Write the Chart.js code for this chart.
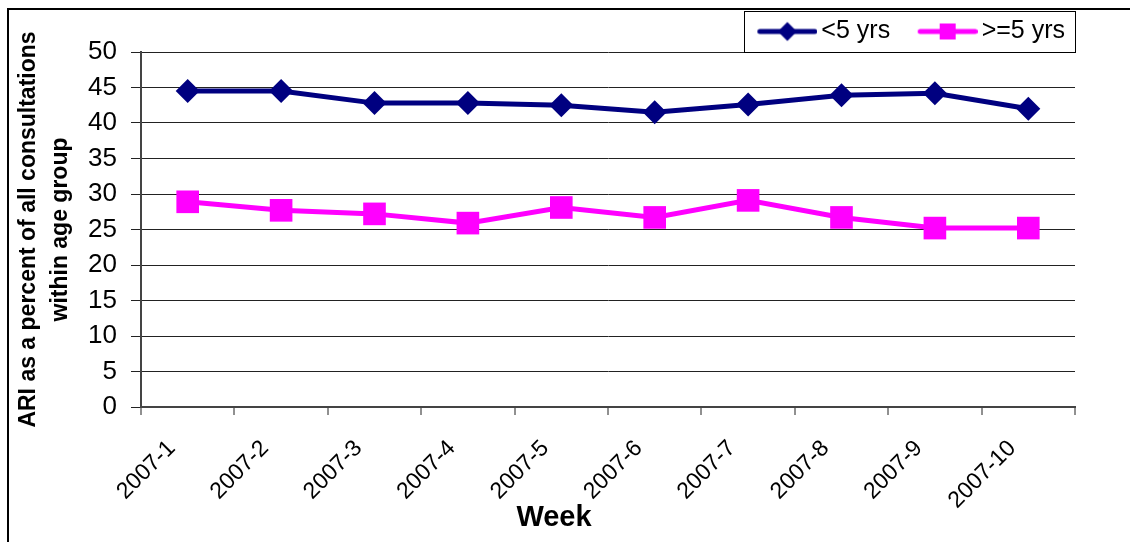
<!DOCTYPE html>
<html>
<head>
<meta charset="utf-8">
<script src="https://cdn.jsdelivr.net/npm/chart.js@4.4.1/dist/chart.umd.min.js"></script>
<style>
  body { margin: 0; background: #fff; }
  #wrap { position: relative; width: 1130px; height: 542px; overflow: hidden; }
  #frame { position: absolute; left: 7px; top: 8px; width: 1200px; height: 600px;
           border: 2px solid #000; pointer-events: none; }
</style>
</head>
<body>
<div id="wrap">
  <canvas id="ariChart"></canvas>
  <div id="frame"></div>
</div>
<script>
// data
const weeks = ['2007-1', '2007-2', '2007-3', '2007-4', '2007-5',
               '2007-6', '2007-7', '2007-8', '2007-9', '2007-10'];
const under5 = [44.5, 44.5, 42.8, 42.8, 42.5, 41.5, 42.6, 43.9, 44.2, 42.0];
const over5 = [28.9, 27.7, 27.2, 25.9, 28.1, 26.7, 29.1, 26.7, 25.2, 25.2];
const seriesNames = ['<5 yrs', '>=5 yrs'];
const yMin = 0, yMax = 50, yStep = 5;

const navy = '#000080';
const magenta = '#FF00FF';

Chart.defaults.font.family = '"Liberation Sans", Arial, sans-serif';
Chart.defaults.color = '#000';

// line + marker swatch for the legend
function legendSwatch(color, marker) {
  const c = document.createElement('canvas');
  c.width = 86;
  c.height = 24;
  const g = c.getContext('2d');
  g.strokeStyle = color;
  g.fillStyle = color;
  g.lineWidth = 5;
  g.lineCap = 'round';
  g.beginPath();
  g.moveTo(28.5, 12);
  g.lineTo(83.5, 12);
  g.stroke();
  const cx = 56, cy = 12;
  if (marker === 'diamond') {
    g.beginPath();
    g.moveTo(cx - 9.5, cy);
    g.lineTo(cx, cy - 9.5);
    g.lineTo(cx + 9.5, cy);
    g.lineTo(cx, cy + 9.5);
    g.closePath();
    g.fill();
  } else {
    g.fillRect(cx - 8, cy - 8, 16, 16);
  }
  return c;
}
const swatches = [legendSwatch(navy, 'diamond'), legendSwatch(magenta, 'square')];

const legendFrame = {
  id: 'legendFrame',
  afterDraw(chart) {
    const lg = chart.legend;
    if (!lg || !lg.legendHitBoxes.length) return;
    const ctx = chart.ctx;
    const left = lg.legendHitBoxes[0].left + 4;
    ctx.save();
    ctx.strokeStyle = '#000';
    ctx.lineWidth = 1;
    ctx.strokeRect(Math.round(left) + 0.5, Math.round(lg.top + 2) + 0.5,
                   Math.round(chart.chartArea.right - left), Math.round(chart.chartArea.top - lg.top - 2));
    ctx.restore();
  }
};

const weekTitle = {
  id: 'weekTitle',
  afterDraw(chart) {
    const ctx = chart.ctx;
    ctx.save();
    ctx.font = 'bold 29px "Liberation Sans", Arial, sans-serif';
    ctx.fillStyle = '#000';
    ctx.textAlign = 'center';
    ctx.textBaseline = 'middle';
    ctx.fillText('Week', 554, 518);
    ctx.restore();
  }
};

new Chart(document.getElementById('ariChart'), {
  type: 'line',
  data: {
    labels: weeks,
    datasets: [{
      label: seriesNames[0],
      data: under5,
      borderColor: navy,
      backgroundColor: navy,
      borderWidth: 5,
      pointStyle: 'rectRot',
      pointRadius: 12,
      pointBorderWidth: 0,
      tension: 0
    }, {
      label: seriesNames[1],
      data: over5,
      borderColor: magenta,
      backgroundColor: magenta,
      borderWidth: 5,
      pointStyle: 'rect',
      pointRadius: 16,
      pointBorderWidth: 0,
      tension: 0
    }]
  },
  options: {
    responsive: true,
    maintainAspectRatio: false,
    animation: false,
    layout: {
      padding: { top: 9, left: 10, right: 55, bottom: 0 }
    },
    plugins: {
      tooltip: { enabled: false },
      legend: {
        position: 'top',
        align: 'end',
        maxHeight: 43,
        labels: {
          usePointStyle: true,
          pointStyleWidth: 69,
          padding: 10,
          font: { size: 25 },
          color: '#000',
          generateLabels(chart) {
            const items = Chart.defaults.plugins.legend.labels.generateLabels(chart);
            items.forEach((it, i) => { it.pointStyle = swatches[i]; });
            return items;
          }
        }
      }
    },
    scales: {
      x: {
        offset: true,
        afterFit(scale) { scale.height = 135; },
        border: { color: '#444', width: 2 },
        grid: {
          offset: true,
          drawOnChartArea: true,
          color: (ctx) => ctx.index === weeks.length ? '#999' : 'rgba(0,0,0,0)',
          lineWidth: 2,
          tickColor: '#222',
          tickWidth: 1,
          tickLength: 8
        },
        ticks: {
          autoSkip: false,
          minRotation: 45,
          maxRotation: 45,
          labelOffset: -16,
          padding: 20,
          font: { size: 23 },
          color: '#000'
        }
      },
      y: {
        min: yMin,
        max: yMax,
        afterFit(scale) { scale.width = 131; },
        border: { color: '#444', width: 2 },
        grid: {
          color: '#222',
          lineWidth: 1,
          tickColor: '#222',
          tickLength: 10
        },
        ticks: {
          stepSize: yStep,
          padding: 14,
          font: { size: 26 },
          color: '#000'
        },
        title: {
          display: true,
          text: ['ARI as a percent of all consultations', 'within age group'],
          font: { size: 23, weight: 'bold', lineHeight: 1.37 },
          padding: { top: 3, bottom: 0 },
          color: '#000'
        }
      }
    }
  },
  plugins: [legendFrame, weekTitle]
});
</script>
</body>
</html>
